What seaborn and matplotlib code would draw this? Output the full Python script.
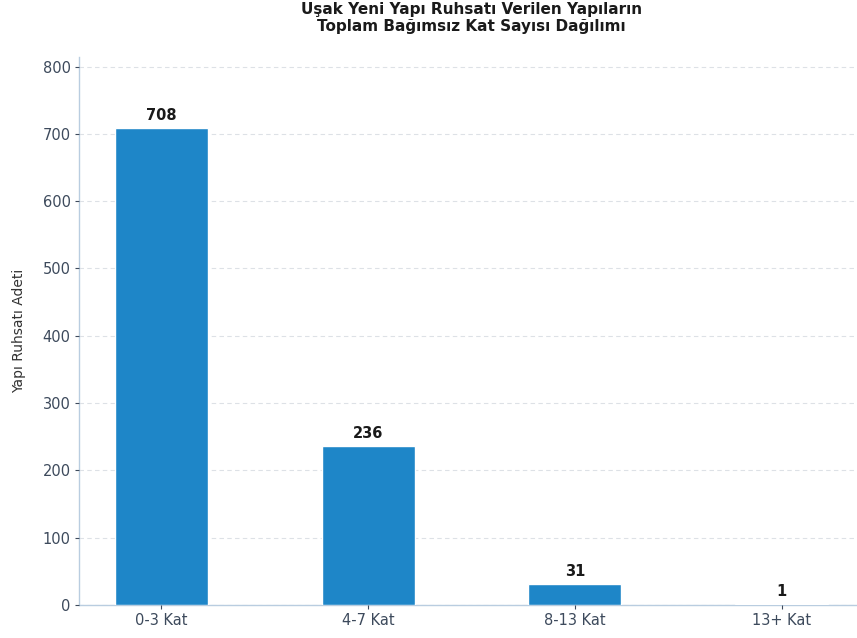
import matplotlib
matplotlib.use("Agg")
import matplotlib.pyplot as plt
import seaborn as sns
import pandas as pd

categories = ["0-3 Kat", "4-7 Kat", "8-13 Kat", "13+ Kat"]
values = [708, 236, 31, 1]
title = "Uşak Yeni Yapı Ruhsatı Verilen Yapıların\nToplam Bağımsız Kat Sayısı Dağılımı"
ylabel = "Yapı Ruhsatı Adeti"

sns.set_theme(style="white")
plt.rcParams['font.family'] = ['DejaVu Sans']

df = pd.DataFrame({"cat": categories, "val": values})

fig = plt.figure(figsize=(8.57, 6.38), dpi=100)
ax = fig.add_axes([79/857, 33/638, (864-79)/857, (605-57)/638])

sns.barplot(data=df, x="cat", y="val", color="#1E86C8", width=0.45, saturation=1, ax=ax)

ax.set_xlim(-0.3975, 3.3975)
ax.set_ylim(0, 814.2)
ax.set_yticks(range(0, 801, 100))
ax.yaxis.grid(True, linestyle=(0, (4, 3)), color="#dde1e6", linewidth=0.8)
ax.set_axisbelow(True)

for s in ["top", "right"]:
    ax.spines[s].set_visible(False)
for s in ["left", "bottom"]:
    ax.spines[s].set_color("#b9cde0")
    ax.spines[s].set_linewidth(1.0)
    ax.spines[s].set_zorder(0.5)

ax.tick_params(axis="both", colors="#3d4a5c", labelsize=10.5, length=3, width=0.8, pad=3, left=True, bottom=True)
ax.set_xlabel("")
ax.set_ylabel(ylabel, fontsize=10, color="#333333", labelpad=12)

for i, v in enumerate(values):
    ax.text(i, v + 8, str(v), ha="center", va="bottom", fontsize=10.5, fontweight="bold", color="#1a1a1a")

ax.set_title(title, fontsize=11, fontweight="bold", color="#1a1a1a", pad=19, linespacing=1.15)

fig.savefig("out.png", dpi=100)
